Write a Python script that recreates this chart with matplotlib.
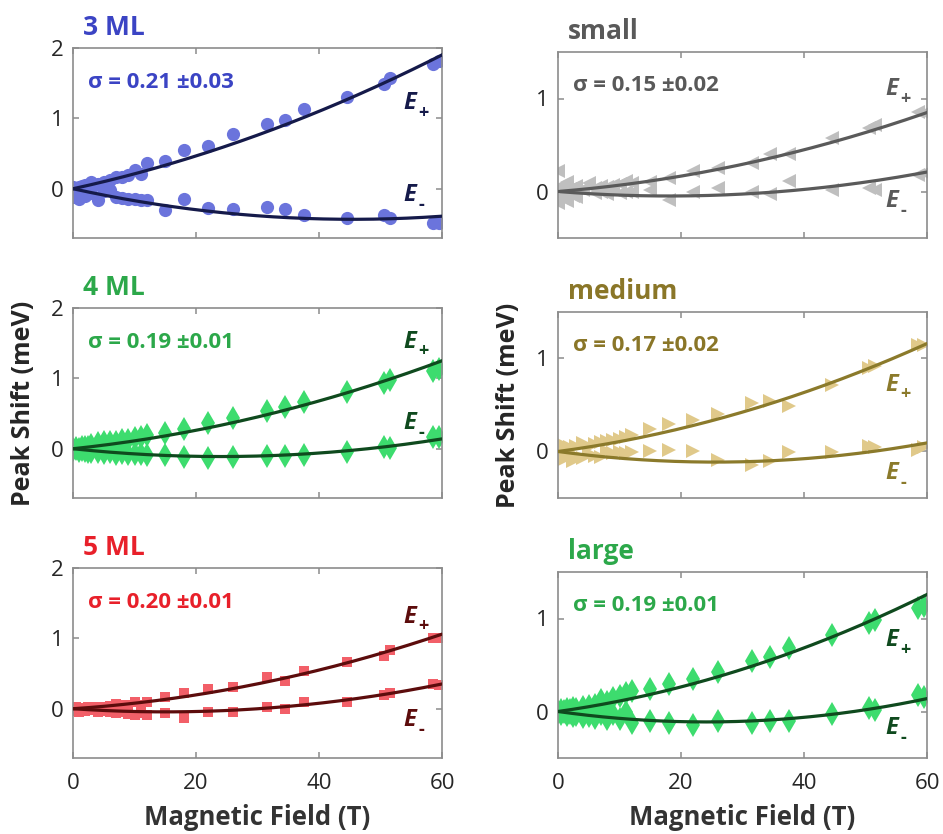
import numpy as np
import matplotlib
matplotlib.use("Agg")
import matplotlib.pyplot as plt

plt.rcParams['font.family'] = ['Open Sans', 'DejaVu Sans']

# field points of the sweep (T)
FIELD = [0, 0.5, 1, 1.5, 2, 2.5, 3, 4, 5, 6, 7, 8, 9, 10, 11, 12,
         15, 18, 22, 26, 31.5, 34.5, 37.5, 44.5, 50.5, 51.5, 58.5, 59.5]

# peak shifts (meV), upper (E+) and lower (E-) branch per sample
ml3_up = [0.03, -0.05, 0.02, 0.04, 0.06, 0.03, 0.09, 0.07, 0.10, 0.12, 0.16, 0.17, 0.20, 0.27,
          0.21, 0.36, 0.39, 0.55, 0.61, 0.78, 0.92, 0.98, 1.13, 1.30, 1.49, 1.57, 1.77, 1.81]
ml3_dn = [-0.12, -0.08, -0.15, -0.05, -0.10, -0.03, -0.06, -0.16, -0.03, -0.02, -0.12, -0.13, -0.14, -0.15,
          -0.16, -0.16, -0.30, -0.15, -0.28, -0.29, -0.26, -0.29, -0.37, -0.42, -0.37, -0.42, -0.48, -0.49]

ml4_up = [0.0, 0.01, 0.0, 0.02, 0.03, 0.02, 0.06, 0.08, 0.09, 0.10, 0.10, 0.12, 0.13, 0.15,
          0.17, 0.20, 0.22, 0.28, 0.36, 0.43, 0.53, 0.59, 0.67, 0.81, 0.93, 0.98, 1.10, 1.13]
ml4_dn = [-0.02, 0.0, -0.03, -0.02, -0.03, -0.04, -0.05, -0.04, -0.06, -0.05, -0.07, -0.06, -0.08, -0.07,
          -0.08, -0.09, -0.09, -0.12, -0.13, -0.12, -0.11, -0.10, -0.09, -0.04, 0.02, 0.01, 0.17, 0.16]

ml5_up = [0.0, 0.02, -0.02, 0.01, 0.0, 0.02, 0.01, 0.03, 0.02, 0.04, 0.07, 0.05, 0.06, 0.10,
          0.06, 0.09, 0.17, 0.22, 0.28, 0.31, 0.45, 0.40, 0.53, 0.67, 0.75, 0.83, 1.00, 1.01]
ml5_dn = [-0.03, 0.0, -0.04, -0.02, -0.03, 0.0, -0.02, -0.04, -0.03, -0.05, -0.06, -0.04, -0.07, -0.09,
          -0.06, -0.09, -0.06, -0.13, -0.05, -0.04, 0.02, -0.01, 0.09, 0.09, 0.20, 0.22, 0.35, 0.34]

small_up = [0.22, 0.05, -0.08, 0.10, 0.03, -0.05, 0.06, 0.02, 0.09, 0.04, 0.06, 0.05, 0.07, 0.08,
            0.11, 0.09, 0.10, 0.15, 0.22, 0.25, 0.31, 0.40, 0.40, 0.58, 0.68, 0.72, 0.86, 0.84]
small_dn = [-0.12, -0.05, 0.08, -0.10, 0.0, 0.04, -0.06, 0.03, 0.06, -0.02, 0.0, -0.03, 0.02, -0.02,
            0.0, -0.01, 0.02, -0.09, 0.0, 0.04, 0.0, -0.03, 0.11, 0.02, 0.04, 0.02, 0.18, 0.20]

medium_up = [0.03, -0.05, 0.07, 0.0, 0.05, -0.03, 0.06, 0.09, 0.05, 0.08, 0.10, 0.11, 0.12, 0.13,
             0.16, 0.18, 0.24, 0.30, 0.34, 0.40, 0.52, 0.54, 0.49, 0.72, 0.90, 0.92, 1.15, 1.14]
medium_dn = [-0.08, -0.10, 0.02, -0.06, -0.03, -0.10, -0.05, -0.07, -0.03, -0.05, -0.06, 0.0, -0.02, -0.01,
             -0.02, -0.01, 0.0, 0.02, 0.0, -0.09, -0.14, -0.10, -0.01, -0.01, 0.06, 0.05, 0.02, 0.05]

large_up = [0.0, 0.02, 0.01, 0.03, 0.02, 0.04, 0.03, 0.05, 0.06, 0.07, 0.12, 0.10, 0.15, 0.17,
            0.20, 0.22, 0.24, 0.30, 0.35, 0.43, 0.54, 0.59, 0.68, 0.82, 0.95, 0.98, 1.11, 1.13]
large_dn = [-0.01, -0.03, 0.0, -0.04, -0.02, -0.05, -0.04, -0.06, -0.05, -0.07, -0.03, -0.08, -0.03, -0.08,
            -0.01, -0.12, -0.10, -0.12, -0.14, -0.10, -0.12, -0.10, -0.10, -0.03, 0.04, 0.02, 0.18, 0.16]

# fit parameters: linear (Zeeman) and quadratic (diamagnetic) coefficients
FIT_LIN = [0.0191, 0.00925, 0.0059, 0.00533, 0.0089, 0.00933]
FIT_QUAD = [2.1e-4, 1.93e-4, 1.96e-4, 1.47e-4, 1.74e-4, 1.94e-4]

NAMES = ['3 ML', '4 ML', '5 ML', 'small', 'medium', 'large']
SIGMAS = ['0.21 ±0.03', '0.19 ±0.01', '0.20 ±0.01', '0.15 ±0.02', '0.17 ±0.02', '0.19 ±0.01']
UPPER = [ml3_up, ml4_up, ml5_up, small_up, medium_up, large_up]
LOWER = [ml3_dn, ml4_dn, ml5_dn, small_dn, medium_dn, large_dn]

TEXT_COLORS = ['#3b44c4', '#2ca84a', '#e8202a', '#595959', '#8a7628', '#2ca84a']
MARKER_COLORS = ['#6b74dc', '#3ddc6e', '#f25f68', '#bfbfbf', '#e0c98a', '#3ddc6e']
LINE_COLORS = ['#151a4a', '#0f4a1e', '#5c0c0c', '#5a5a5a', '#8b7a2b', '#0f4a1e']
MARKERS = [('o', 9.5), ('d', 12), ('s', 7.5), ('<', 10), ('>', 10), ('d', 12)]
# label positions (field, shift) for E+ and E-
E_POS = [((53.7, 1.22), (53.7, -0.09)), ((53.7, 1.52), (53.7, 0.36)), ((53.7, 1.31), (53.7, -0.16)),
         ((53.2, 1.10), (53.2, -0.10)), ((53.2, 0.72), (53.2, -0.23)), ((53.2, 0.77), (53.2, -0.18))]

W, H = 943, 834
fig = plt.figure(figsize=(W / 100, H / 100), dpi=100)

# axes boxes in pixels: left, top, right, bottom
boxes = [(73, 48, 442, 238), (73, 308, 442, 498), (73, 568, 442, 758),
         (558, 52, 927, 238), (558, 312, 927, 498), (558, 572, 927, 758)]

SPINE = '#8c8c8c'
TICKTXT = '#262626'
bfit = np.linspace(0, 60, 200)

for i in range(6):
    l, t, r, b = boxes[i]
    ax = fig.add_axes([l / W, 1 - b / H, (r - l) / W, (b - t) / H])
    left_col = i < 3
    m, ms = MARKERS[i]
    ax.plot(FIELD, UPPER[i], linestyle='none', marker=m, ms=ms,
            color=MARKER_COLORS[i], markeredgewidth=0, zorder=2)
    ax.plot(FIELD, LOWER[i], linestyle='none', marker=m, ms=ms,
            color=MARKER_COLORS[i], markeredgewidth=0, zorder=2)
    ax.plot(bfit, FIT_LIN[i] * bfit + FIT_QUAD[i] * bfit ** 2, color=LINE_COLORS[i], lw=2.3, zorder=3)
    ax.plot(bfit, -FIT_LIN[i] * bfit + FIT_QUAD[i] * bfit ** 2, color=LINE_COLORS[i], lw=2.3, zorder=3)

    ax.set_xlim(0, 60)
    ax.set_xticks([0, 20, 40, 60])
    if left_col:
        ax.set_ylim(-0.7, 2)
        ax.set_yticks([0, 1, 2])
    else:
        ax.set_ylim(-0.5, 1.5)
        ax.set_yticks([0, 1])
    for s in ax.spines.values():
        s.set_color(SPINE)
        s.set_linewidth(1.2)
    ax.tick_params(direction='in', length=4, width=1.1, color=SPINE, top=True, right=True,
                   labelsize=16, labelcolor=TICKTXT, pad=7)
    ax.tick_params(axis='x', pad=11)
    if i % 3 != 2:
        ax.set_xticklabels([])
    else:
        ax.set_xlabel('Magnetic Field (T)', fontsize=18.5, fontweight='bold', color='#333333', labelpad=7)
    if i % 3 == 1:
        ax.set_ylabel('Peak Shift (meV)', fontsize=18, fontweight='bold', color='#262626')
        ax.yaxis.set_label_coords(-0.1, 0.5)

    ax.text(0.027, 1 + 13 / (b - t), NAMES[i], transform=ax.transAxes, fontsize=19,
            fontweight='bold', color=TEXT_COLORS[i], va='baseline', ha='left')
    ax.text(0.04, 0.82, 'σ = ' + SIGMAS[i], transform=ax.transAxes, fontsize=16,
            fontweight='bold', color=TEXT_COLORS[i], va='center', ha='left')

    for (ex, ey), sub in zip(E_POS[i], ['+', '-']):
        ax.text(ex, ey, 'E', fontsize=17, fontweight='bold', style='italic',
                color=LINE_COLORS[i], va='center', ha='left', zorder=5)
        ax.annotate(sub, xy=(ex, ey), xytext=(11, -7), textcoords='offset points',
                    fontsize=13, fontweight='bold', color=LINE_COLORS[i],
                    va='center', ha='left', zorder=5)

fig.savefig('out.png', dpi=100)
